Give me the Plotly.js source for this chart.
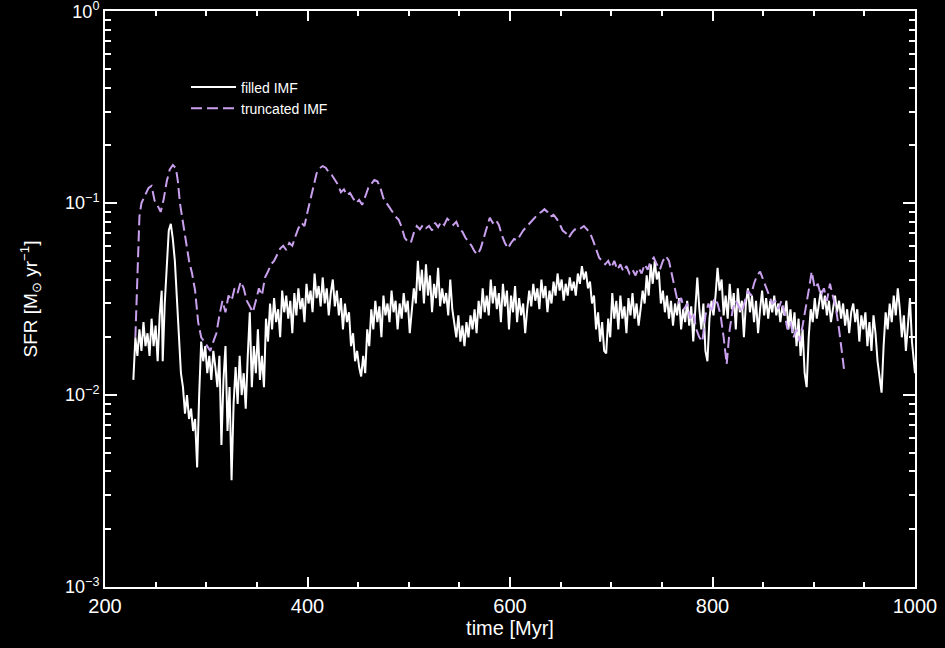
<!DOCTYPE html>
<html>
<head>
<meta charset="utf-8">
<script src="https://cdn.plot.ly/plotly-3.0.1.min.js"></script>
<style>html,body{margin:0;padding:0;background:#000;}#chart{width:945px;height:648px;}</style>
</head>
<body>
<div id="chart"></div>
<script>
// ---- data: filled IMF (time in Myr, SFR in Msun/yr) ----
const timeFilled = [
228,230,232,234,236,238,240,242,244,246,248,250,252,254,256,
257,259,261,263,265,267,269,271,273,275,
277,279,281,283,285,287,289,291,293,295,
297,299,301,303,305,307,309,311,313,315,
317,319,321,323,325,327,329,331,333,335,
337,339,341,343,345,347,349,351,353,355,
357,359,361,363,365,367,369,371,373,375,
377,379,381,383,385,387,389,391,393,395,
397,399,401,403,405,407,409,411,413,415,
417,419,421,423,425,427,429,431,433,435,
437,439,441,443,445,447,449,451,453,455,
457,459,461,463,465,467,469,471,473,475,
477,479,481,483,485,487,489,491,493,495,
497,499,501,503,505,507,509,511,513,515,
517,519,521,523,525,527,529,531,533,535,
537,539,541,543,545,547,549,551,553,555,
557,559,561,563,565,567,569,571,573,575,
577,579,581,583,585,587,589,591,593,595,
597,599,601,603,605,607,609,611,613,615,
617,619,621,623,625,627,629,631,633,635,
637,639,641,643,645,647,649,651,653,655,
657,659,661,663,665,667,669,671,673,675,
677,679,681,683,685,687,689,691,693,695,
697,699,701,703,705,707,709,711,713,715,
717,719,721,723,725,727,729,731,733,735,
737,739,741,743,745,747,749,751,753,755,
757,759,761,763,765,767,769,771,773,775,
777,779,781,783,785,787,789,791,793,795,
797,799,801,803,805,807,809,811,813,815,
817,819,821,823,825,827,829,831,833,835,
837,839,841,843,845,847,849,851,853,855,
857,859,861,863,865,867,869,871,873,875,
877,879,881,883,885,887,889,891,893,895,
897,899,901,903,905,907,909,911,913,915,
917,919,921,923,925,927,929,931,933,935,
937,939,941,943,945,947,949,951,953,955,
957,959,961,963,965,967,969,971,973,975,
977,979,981,983,985,987,989,991,993,995,
997,999,1000
];
const sfrFilled = [
0.012,0.020,0.016,0.022,0.017,0.024,0.018,0.021,0.016,0.025,0.018,0.023,0.015,0.026,0.035,
0.015,0.030,0.050,0.072,0.078,0.065,0.050,0.033,0.021,0.013,
0.011,0.008,0.010,0.0075,0.0085,0.0065,0.0075,0.0042,0.010,0.019,
0.015,0.018,0.013,0.016,0.012,0.017,0.014,0.011,0.016,0.0055,
0.012,0.018,0.0065,0.011,0.0036,0.009,0.014,0.009,0.016,0.010,
0.013,0.0085,0.016,0.027,0.011,0.018,0.013,0.022,0.012,0.016,
0.011,0.025,0.019,0.030,0.022,0.032,0.024,0.028,0.020,0.035,
0.027,0.033,0.025,0.031,0.021,0.034,0.026,0.036,0.028,0.032,
0.024,0.038,0.030,0.035,0.027,0.043,0.032,0.037,0.029,0.041,
0.030,0.036,0.026,0.034,0.040,0.029,0.035,0.026,0.032,0.022,
0.030,0.024,0.027,0.018,0.021,0.015,0.017,0.014,0.0125,0.016,
0.013,0.022,0.018,0.028,0.022,0.031,0.024,0.029,0.020,0.033,
0.026,0.030,0.024,0.035,0.027,0.031,0.022,0.030,0.025,0.034,
0.027,0.031,0.021,0.028,0.036,0.030,0.050,0.035,0.045,0.030,
0.048,0.033,0.042,0.027,0.038,0.032,0.046,0.029,0.036,0.030,
0.034,0.026,0.040,0.028,0.024,0.020,0.026,0.019,0.023,0.018,
0.024,0.020,0.026,0.022,0.028,0.021,0.031,0.025,0.036,0.027,
0.033,0.026,0.040,0.030,0.037,0.028,0.034,0.024,0.038,0.029,
0.035,0.022,0.033,0.027,0.037,0.024,0.032,0.026,0.030,0.021,
0.028,0.035,0.029,0.038,0.031,0.036,0.028,0.040,0.032,0.037,
0.027,0.035,0.030,0.039,0.033,0.043,0.035,0.040,0.031,0.038,
0.033,0.041,0.035,0.039,0.033,0.043,0.038,0.047,0.040,0.044,
0.036,0.039,0.030,0.033,0.022,0.027,0.019,0.024,0.017,0.0165,
0.025,0.020,0.034,0.025,0.031,0.022,0.033,0.025,0.029,0.021,
0.032,0.026,0.034,0.025,0.030,0.023,0.028,0.035,0.030,0.042,
0.033,0.048,0.038,0.050,0.040,0.044,0.030,0.035,0.027,0.033,
0.025,0.031,0.023,0.030,0.026,0.032,0.022,0.028,0.024,0.031,
0.023,0.029,0.019,0.027,0.041,0.028,0.022,0.030,0.017,0.015,
0.025,0.031,0.026,0.033,0.046,0.035,0.040,0.026,0.033,0.025,
0.038,0.028,0.034,0.022,0.036,0.027,0.031,0.020,0.030,0.036,
0.027,0.033,0.024,0.031,0.021,0.028,0.035,0.026,0.032,0.025,
0.031,0.027,0.033,0.026,0.030,0.024,0.029,0.026,0.031,0.022,
0.028,0.021,0.027,0.018,0.025,0.016,0.022,0.013,0.011,0.020,
0.028,0.024,0.032,0.025,0.030,0.035,0.028,0.033,0.026,0.031,
0.024,0.029,0.033,0.027,0.031,0.025,0.030,0.023,0.028,0.021,
0.027,0.030,0.024,0.028,0.019,0.026,0.022,0.027,0.018,0.024,
0.017,0.026,0.021,0.015,0.012,0.0103,0.018,0.027,0.022,0.030,
0.024,0.033,0.026,0.036,0.028,0.020,0.026,0.017,0.023,0.032,
0.019,0.014,0.013
];

// ---- data: truncated IMF ----
const timeTrunc = [
230,232,234,236,239,243,246,249,252,255,258,261,264,267,270,272,274,277,
280,283,286,289,292,295,298,301,304,307,310,313,316,319,322,325,328,331,334,337,
340,343,346,349,352,355,358,361,364,367,370,373,376,379,382,385,388,391,394,397,
400,403,406,409,412,415,418,421,424,427,430,433,436,439,442,445,448,451,454,457,
460,463,466,469,472,475,478,481,484,487,490,493,496,499,502,505,508,511,514,517,
520,523,526,529,532,535,538,541,544,547,550,553,556,559,562,565,568,571,574,577,
580,583,586,589,592,595,598,601,604,607,610,613,616,619,622,625,628,631,634,637,
640,643,646,649,652,655,658,661,664,667,670,673,676,679,682,685,688,691,694,697,
700,703,706,709,712,715,718,721,724,727,730,733,736,739,742,745,748,751,754,757,
760,763,766,769,772,775,778,781,784,787,790,793,796,799,802,805,808,811,814,817,
820,823,826,829,832,835,838,841,844,847,850,853,856,859,862,865,868,871,874,877,
880,883,886,889,892,895,898,901,904,907,910,913,916,919,922,925,928,930
];
const sfrTrunc = [
0.020,0.045,0.085,0.100,0.108,0.120,0.123,0.103,0.097,0.090,0.105,0.130,0.150,0.158,0.152,0.130,0.100,0.080,
0.065,0.050,0.043,0.035,0.024,0.020,0.019,0.018,0.017,0.019,0.021,0.026,0.031,0.027,0.033,0.031,0.036,0.034,0.039,0.036,
0.031,0.029,0.027,0.031,0.036,0.033,0.041,0.044,0.048,0.050,0.054,0.058,0.060,0.057,0.062,0.060,0.067,0.074,0.079,0.076,
0.090,0.104,0.120,0.143,0.152,0.156,0.153,0.145,0.140,0.132,0.125,0.114,0.118,0.110,0.113,0.106,0.100,0.104,0.098,0.108,
0.120,0.126,0.132,0.130,0.120,0.106,0.100,0.094,0.090,0.085,0.082,0.075,0.066,0.063,0.062,0.070,0.076,0.073,0.077,0.074,
0.076,0.072,0.079,0.075,0.080,0.077,0.083,0.080,0.077,0.080,0.073,0.071,0.066,0.063,0.060,0.056,0.054,0.058,0.066,0.075,
0.084,0.079,0.082,0.077,0.068,0.062,0.058,0.062,0.065,0.064,0.068,0.072,0.075,0.078,0.082,0.085,0.088,0.090,0.093,0.090,
0.085,0.087,0.083,0.078,0.072,0.070,0.066,0.070,0.073,0.072,0.074,0.076,0.073,0.070,0.064,0.057,0.052,0.050,0.048,0.050,
0.046,0.050,0.045,0.048,0.044,0.047,0.043,0.045,0.042,0.046,0.043,0.048,0.045,0.050,0.052,0.048,0.045,0.050,0.053,0.050,
0.042,0.035,0.030,0.032,0.028,0.030,0.025,0.027,0.022,0.020,0.019,0.026,0.030,0.027,0.032,0.030,0.026,0.020,0.0145,0.022,
0.028,0.031,0.029,0.027,0.031,0.035,0.033,0.038,0.042,0.044,0.040,0.036,0.033,0.030,0.031,0.028,0.031,0.027,0.022,0.024,
0.020,0.022,0.019,0.023,0.028,0.035,0.044,0.036,0.038,0.033,0.036,0.031,0.038,0.033,0.028,0.022,0.017,0.0135
];

// ---- axis ticks / labels ----
const xTickVals = [200, 400, 600, 800, 1000];
const xTickText = ['200', '400', '600', '800', '1000'];
const yTickVals = [0.001, 0.01, 0.1, 1];
const yTickText = ['10<sup>\u22123</sup>', '10<sup>\u22122</sup>', '10<sup>\u22121</sup>', '10<sup>0</sup>'];
const yMinorVals = [0.002,0.003,0.004,0.005,0.006,0.007,0.008,0.009,
                    0.02,0.03,0.04,0.05,0.06,0.07,0.08,0.09,
                    0.2,0.3,0.4,0.5,0.6,0.7,0.8,0.9];
const seriesNames = ['filled IMF', 'truncated IMF'];

const FONT = 'Liberation Sans, Arial, sans-serif';

const traces = [
  {x: timeFilled, y: sfrFilled, type: 'scatter', mode: 'lines', name: seriesNames[0],
   line: {color: '#ffffff', width: 2}},
  {x: timeTrunc, y: sfrTrunc, type: 'scatter', mode: 'lines', name: seriesNames[1],
   line: {color: '#c9a0ee', width: 2, dash: '11px,5px'}}
];

const layout = {
  width: 945, height: 648,
  paper_bgcolor: '#000000', plot_bgcolor: '#000000',
  margin: {l: 105, r: 30, t: 11, b: 61},
  font: {family: FONT, color: '#ffffff'},
  showlegend: true,
  legend: {x: 0.1, y: 0.895, xanchor: 'left', yanchor: 'top', itemwidth: 45,
           bgcolor: 'rgba(0,0,0,0)', font: {family: FONT, size: 14, color: '#ffffff'},
           tracegroupgap: 0},
  xaxis: {
    range: [200, 1000], tickmode: 'array', tickvals: xTickVals, ticktext: xTickText,
    ticks: 'inside', ticklen: 10, tickwidth: 2, tickcolor: '#ffffff',
    showline: true, linecolor: '#ffffff', linewidth: 2, mirror: 'ticks',
    showgrid: false, zeroline: false, ticklabeloverflow: 'allow',
    tickfont: {family: FONT, size: 20, color: '#ffffff'},
    minor: {ticks: 'inside', ticklen: 5, tickwidth: 2, tickcolor: '#ffffff', dtick: 50, showgrid: false},
    title: {text: 'time [Myr]', font: {family: FONT, size: 20, color: '#ffffff'}, standoff: 4}
  },
  yaxis: {
    type: 'log', range: [-3, 0.001], tickmode: 'array', tickvals: yTickVals, ticktext: yTickText,
    ticks: 'inside', ticklen: 12, tickwidth: 2, tickcolor: '#ffffff',
    showline: true, linecolor: '#ffffff', linewidth: 2, mirror: 'ticks',
    showgrid: false, zeroline: false, ticklabeloverflow: 'allow',
    tickfont: {family: FONT, size: 18, color: '#ffffff'},
    minor: {ticks: 'inside', ticklen: 6, tickwidth: 2, tickcolor: '#ffffff', tickmode: 'array', tickvals: yMinorVals, showgrid: false},
    title: {text: 'SFR [M<sub>\u2299</sub> yr<sup>\u22121</sup>]', font: {family: FONT, size: 19, color: '#ffffff'}, standoff: 22}
  }
};

Plotly.newPlot('chart', traces, layout, {displayModeBar: false, staticPlot: true});
</script>
</body>
</html>
